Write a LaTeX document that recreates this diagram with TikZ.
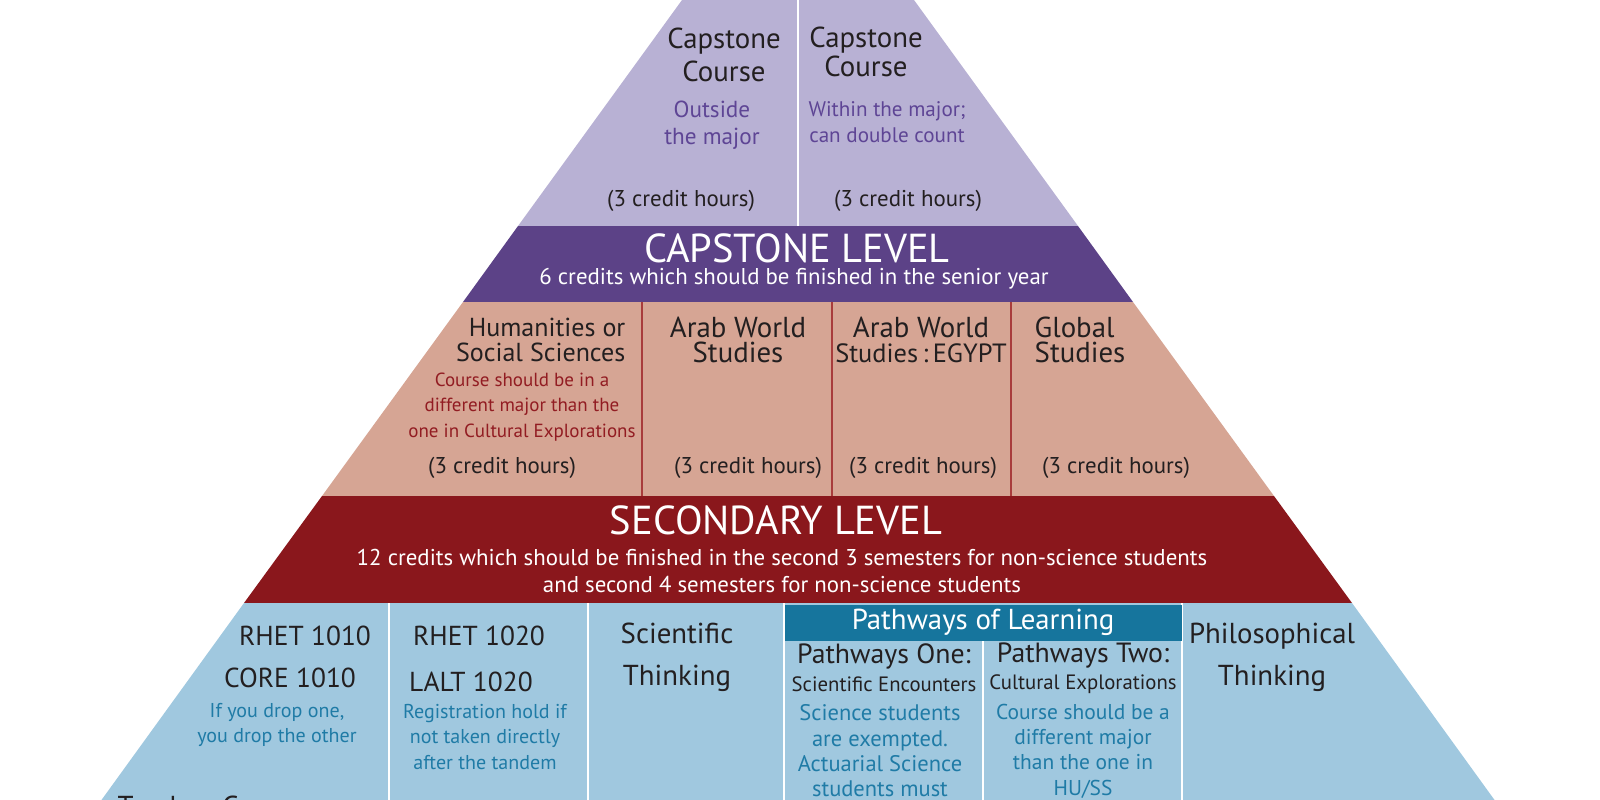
\documentclass[tikz,border=0pt]{standalone}
\usepackage{fontspec}
\setmainfont{PT Sans}
\usetikzlibrary{positioning}

\definecolor{lavfill}{HTML}{B8B1D4}
\definecolor{capband}{HTML}{5C4287}
\definecolor{captext}{HTML}{5E4595}
\definecolor{peachfill}{HTML}{D6A594}
\definecolor{peachline}{HTML}{A83C3C}
\definecolor{secband}{HTML}{8A171C}
\definecolor{sectext}{HTML}{921C22}
\definecolor{bluefill}{HTML}{A0C8DF}
\definecolor{bluehead}{HTML}{16759D}
\definecolor{bluetext}{HTML}{1F7BA6}
\definecolor{inkdark}{HTML}{231F20}

\begin{document}
\begin{tikzpicture}[
    x=0.01cm, y=-0.01cm,
    title/.style={font=\fontsize{8.2}{9.4}\selectfont, text=inkdark, align=center, inner sep=0pt},
    tighttitle/.style={title, font=\fontsize{8.2}{6.9}\selectfont},
    codetitle/.style={title, font=\fontsize{7.8}{7.8}\selectfont},
    hours/.style={font=\fontsize{6.5}{6.5}\selectfont, text=inkdark, inner sep=0pt},
    note/.style={font=\fontsize{5.7}{7.2}\selectfont, align=center, inner sep=0pt},
    capnote/.style={note, text=captext},
    secnote/.style={note, font=\fontsize{5.4}{7.3}\selectfont, text=sectext},
    bluenote/.style={note, text=bluetext},
    bandtitle/.style={font=\fontsize{11.5}{11.5}\selectfont, text=white, inner sep=0pt},
    bandsub/.style={font=\fontsize{6.5}{7.6}\selectfont, text=white, align=center, inner sep=0pt},
    whiteline/.style={white, line width=0.6pt},
    peachdiv/.style={peachline, line width=0.6pt}
]
\useasboundingbox (0,0) rectangle (1600,800);
\clip (0,0) rectangle (1600,800);

% Pyramid bands
\fill[lavfill] (682,0) -- (914,0) -- (1078,226) -- (518,226) -- cycle;
\fill[capband] (518,226) -- (1078,226) -- (1133,302) -- (463,302) -- cycle;
\fill[peachfill] (463,302) -- (1133,302) -- (1274,496) -- (322,496) -- cycle;
\fill[secband] (322,496) -- (1274,496) -- (1352,603) -- (244,603) -- cycle;
\fill[bluefill] (244,603) -- (1352,603) -- (1509,820) -- (87,820) -- cycle;

% Cell dividers
\draw[whiteline] (798,0) -- (798,226);
\foreach \xd in {642,832,1011}
  \draw[peachdiv] (\xd,302) -- (\xd,496);
\foreach \xd in {389,588,784,1182}
  \draw[whiteline] (\xd,603) -- (\xd,800);
\fill[bluehead] (785,605) rectangle (1182,641);
\draw[whiteline] (983,641) -- (983,800);

% Capstone cells
\node[title, font=\fontsize{8.2}{9.4}\selectfont] (capA) at (724,55) {Capstone\\Course};
\node[capnote, font=\fontsize{6.6}{7.6}\selectfont] (capAnote) at (712,125) {Outside\\the major};
\node[hours] (capAhrs) at (681,201) {(3 credit hours)};
\node[title, font=\fontsize{8.2}{8.2}\selectfont] (capB) at (866,52) {Capstone\\Course};
\node[capnote, font=\fontsize{6.0}{7.2}\selectfont] (capBnote) at (887,122) {Within the major;\\can double count};
\node[hours] (capBhrs) at (908,201) {(3 credit hours)};

% Capstone band
\node[bandtitle] (caplevel) at (797,248) {CAPSTONE LEVEL};
\node[bandsub] (capsub) at (794,279) {6 credits which should be finished in the senior year};

% Secondary cells
\node[tighttitle, font=\fontsize{7.4}{6.9}\selectfont, align=right, anchor=east] (huss) at (626,340) {Humanities or\\Social Sciences};
\node[secnote] (hussnote) at (522,407) {Course should be in a\\different major than the\\one in Cultural Explorations};
\node[tighttitle] (aws) at (738,340) {Arab World\\Studies};
\node[tighttitle, font=\fontsize{7.5}{6.9}\selectfont] (awse) at (921,340) {\fontsize{8.2}{6.9}\selectfont Arab World\\Studies\,:\,EGYPT};
\node[tighttitle, align=left, anchor=west] (glob) at (1034,340) {Global\\Studies};
\node[hours] (hussHrs) at (502,468) {(3 credit hours)};
\node[hours] (awsHrs) at (748,468) {(3 credit hours)};
\node[hours] (awseHrs) at (923,468) {(3 credit hours)};
\node[hours] (globHrs) at (1116,468) {(3 credit hours)};

% Secondary band
\node[bandtitle] (seclevel) at (776,520) {SECONDARY LEVEL};
\node[bandsub] (secsub) at (782,571) {12 credits which should be finished in the second 3 semesters for non-science students\\and second 4 semesters for non-science students};

% Foundation cells
\node[codetitle] (rhetA) at (305,636) {RHET 1010};
\node[codetitle] (coreA) at (290,678) {CORE 1010};
\node[bluenote] (tandA) at (277,725) {If you drop one,\\you drop the other};
\node[codetitle] (rhetB) at (479,636) {RHET 1020};
\node[codetitle] (laltB) at (471,682) {LALT 1020};
\node[bluenote] (tandB) at (485,737) {Registration hold if\\not taken directly\\after the tandem};
\node[title, font=\fontsize{8.2}{12}\selectfont] (sciT) at (677,657) {Scientific\\Thinking};
\node[title, text=white] (pathhead) at (983,622) {Pathways of Learning};
\node[title, font=\fontsize{7.9}{7.9}\selectfont] (pOne) at (884,656) {Pathways One:};
\node[title, font=\fontsize{5.9}{5.9}\selectfont] (pOneSub) at (884,684) {Scientific Encounters};
\node[bluenote, font=\fontsize{6.4}{7.2}\selectfont] (pOneNote) at (880,751) {Science students\\are exempted.\\Actuarial Science\\students must};
\node[title, font=\fontsize{7.9}{7.9}\selectfont] (pTwo) at (1083,656) {Pathways Two:};
\node[title, font=\fontsize{5.9}{5.9}\selectfont] (pTwoSub) at (1083,684) {Cultural Explorations};
\node[bluenote, font=\fontsize{6.1}{7.2}\selectfont] (pTwoNote) at (1083,751) {Course should be a\\different major\\than the one in\\HU/SS};
\node[title, font=\fontsize{8.2}{12}\selectfont] (philT) at (1272,657) {Philosophical\\Thinking};
\node[title, anchor=west] (tandem) at (117,806) {Tandem Courses};

\end{tikzpicture}
\end{document}
